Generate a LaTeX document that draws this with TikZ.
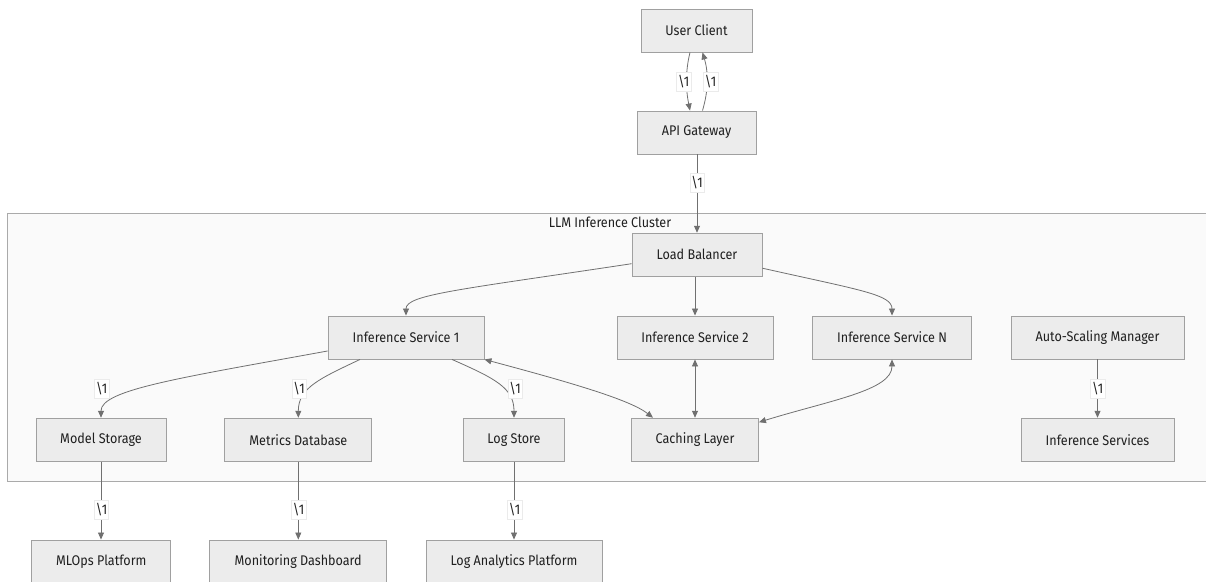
\documentclass[tikz,border=0pt]{standalone}
\usepackage{fontspec}
\setmainfont{Fira Sans}[FakeStretch=0.9]
\usetikzlibrary{arrows.meta}
\definecolor{nodefill}{HTML}{ECECEC}
\definecolor{nodeline}{HTML}{A0A0A0}
\definecolor{clusterfill}{HTML}{FAFAFA}
\definecolor{clusterline}{HTML}{AAAAAA}
\definecolor{edgecol}{HTML}{707070}
\definecolor{txt}{HTML}{1F1F1F}

\begin{document}
\begin{tikzpicture}[x=1pt,y=-1pt,
  txtfont/.style={font=\fontsize{14}{16}\selectfont, text=txt},
  box/.style={draw=nodeline, fill=nodefill, line width=0.9pt, minimum height=43pt,
              inner sep=0pt, txtfont},
  flow/.style={draw=edgecol, line width=0.8pt, -{Triangle[length=7pt,width=6pt]}},
  both/.style={draw=edgecol, line width=0.8pt,
               {Triangle[length=7pt,width=6pt]}-{Triangle[length=7pt,width=6pt]}},
  lbl/.style={fill=white, draw=black!8, line width=0.4pt, inner sep=1.5pt,
              minimum height=19pt, txtfont}
]
\useasboundingbox (0,0) rectangle (1206,581);

% cluster frame
\path[draw=clusterline, fill=clusterfill, line width=0.9pt]
  (7.5,213.5) rectangle (1215,481.5);
\node[txtfont] (title) at (610,222.5) {LLM Inference Cluster};

% nodes
\node[box, minimum width=111pt] (user)  at (696.5,30.5)  {User Client};
\node[box, minimum width=119pt] (api)   at (696.5,132.5) {API Gateway};
\node[box, minimum width=130pt] (lb)    at (697,254.7)   {Load Balancer};
\node[box, minimum width=156pt] (is1)   at (406,337.5)   {Inference Service 1};
\node[box, minimum width=156pt] (is2)   at (695,337.5)   {Inference Service 2};
\node[box, minimum width=159pt] (isn)   at (892,337.5)   {Inference Service N};
\node[box, minimum width=173pt] (asm)   at (1097.5,337.5){Auto-Scaling Manager};
\node[box, minimum width=130pt] (ms)    at (101,439.7)   {Model Storage};
\node[box, minimum width=147pt] (mdb)   at (298.3,439.7) {Metrics Database};
\node[box, minimum width=101pt] (ls)    at (514,439.7)   {Log Store};
\node[box, minimum width=127pt] (cache) at (695,439.7)   {Caching Layer};
\node[box, minimum width=153pt] (isvc)  at (1097.5,439.7){Inference Services};
\node[box, minimum width=139pt] (mlops) at (101.3,561.5) {MLOps Platform};
\node[box, minimum width=177pt] (mon)   at (298.2,561.5) {Monitoring Dashboard};
\node[box, minimum width=176pt] (loga)  at (514,561.5)   {Log Analytics Platform};

% connectors
\draw[flow] ([xshift=-6.5pt]user.south) .. controls +(-5,20) and +(-4,-20) .. ([xshift=-6.5pt]api.north);
\draw[flow] ([xshift=6pt]api.north) .. controls +(6,-20) and +(6,20) .. ([xshift=6pt]user.south);
\draw[flow] (api.south -| lb.north) -- (lb.north);

\draw[flow] ([yshift=-9pt]lb.west) .. controls +(-172,26) and +(0,-21) .. (is1.north);
\draw[flow] (lb.south -| is2.north) -- (is2.north);
\draw[flow] ([yshift=-13.5pt]lb.east) .. controls +(98,22) and +(0,-21) .. (isn.north);

\draw[flow] ([yshift=-13.5pt]is1.west) .. controls +(-148,27) and +(0,-28) .. (ms.north);
\draw[flow] ([xshift=-46pt]is1.south) .. controls +(-40,19) and +(0,-30) .. (mdb.north);
\draw[flow] ([xshift=46pt]is1.south) .. controls +(43,19) and +(0,-30) .. (ls.north);

\draw[both] (is1.south east) .. controls +(86,23) and +(-23,-18) .. ([xshift=-42pt]cache.north);
\draw[both] (is2.south) -- (cache.north);
\draw[both] (isn.south) .. controls +(0,31) and +(71.5,-22) .. ([yshift=17.5pt]cache.east);

\draw[flow] (asm.south) -- (isvc.north);
\draw[flow] (ms.south) -- (ms.south |- mlops.north);
\draw[flow] (mdb.south) -- (mdb.south |- mon.north);
\draw[flow] (ls.south) -- (loga.north);

% edge labels
\node[lbl] (l1)  at (683.7,82)   {\textbackslash 1};
\node[lbl] (l2)  at (710.5,82)   {\textbackslash 1};
\node[lbl] (l3)  at (697,183)    {\textbackslash 1};
\node[lbl] (l4)  at (101.7,389)  {\textbackslash 1};
\node[lbl] (l5)  at (299,389)    {\textbackslash 1};
\node[lbl] (l6)  at (515,389)    {\textbackslash 1};
\node[lbl] (l7)  at (1097.7,388.5) {\textbackslash 1};
\node[lbl] (l8)  at (101.5,510)  {\textbackslash 1};
\node[lbl] (l9)  at (298.5,510)  {\textbackslash 1};
\node[lbl] (l10) at (514.5,510)  {\textbackslash 1};
\end{tikzpicture}
\end{document}
